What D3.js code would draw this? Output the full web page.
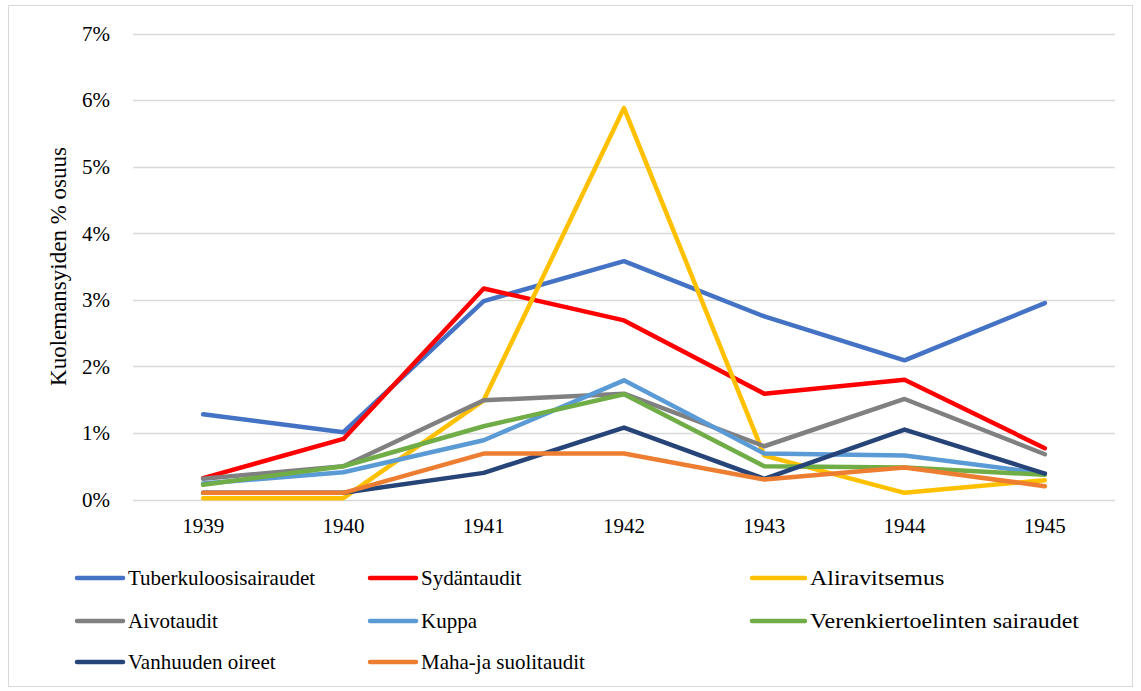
<!DOCTYPE html>
<html>
<head>
<meta charset="UTF-8">
<title>Kuolemansyiden % osuus</title>
<script src="https://d3js.org/d3.v7.min.js"></script>
<style>
  body { margin: 0; background: #fff; }
</style>
</head>
<body>
<svg id="chart" width="1141" height="691"></svg>
<script>
// data (% of deaths)
var years = ["1939", "1940", "1941", "1942", "1943", "1944", "1945"];
var yTicks = [0, 1, 2, 3, 4, 5, 6, 7];

var tuberkuloosi = [1.28, 1.01, 2.98, 3.58, 2.75, 2.09, 2.95];
var sydan        = [0.32, 0.91, 3.17, 2.69, 1.59, 1.80, 0.77];
var aliravitsemus= [0.02, 0.02, 1.49, 5.88, 0.66, 0.10, 0.29];
var aivo         = [0.31, 0.50, 1.49, 1.59, 0.80, 1.51, 0.68];
var kuppa        = [0.24, 0.41, 0.89, 1.79, 0.69, 0.66, 0.39];
var verenkierto  = [0.22, 0.50, 1.10, 1.58, 0.50, 0.48, 0.37];
var vanhuus      = [0.10, 0.10, 0.40, 1.08, 0.31, 1.05, 0.39];
var mahasuoli    = [0.10, 0.10, 0.69, 0.69, 0.30, 0.48, 0.20];

var seriesNames = ["Tuberkuloosisairaudet", "Sydäntaudit", "Aliravitsemus",
                   "Aivotaudit", "Kuppa", "Verenkiertoelinten sairaudet",
                   "Vanhuuden oireet", "Maha-ja suolitaudit"];
var seriesValues = [tuberkuloosi, sydan, aliravitsemus, aivo, kuppa, verenkierto, vanhuus, mahasuoli];
var colors = ["#4472C4", "#FF0000", "#FFC000", "#808080", "#5B9BD5", "#70AD47", "#264478", "#ED7D31"];

var serif = "'Liberation Serif'";

var svg = d3.select("#chart");

// outer frame
svg.append("rect")
    .attr("x", 8.5).attr("y", 5.5)
    .attr("width", 1124).attr("height", 681)
    .attr("fill", "#fff")
    .attr("stroke", "#D9D9D9");

var plotLeft = 133, plotRight = 1115, plotTop = 33.5, plotBottom = 499.5;

var x = d3.scalePoint()
    .domain(years)
    .range([plotLeft, plotRight])
    .padding(0.5);

var y = d3.scaleLinear()
    .domain([0, 7])
    .range([plotBottom, plotTop]);

// gridlines
svg.append("g")
    .selectAll("line")
    .data(yTicks)
    .enter().append("line")
    .attr("x1", plotLeft).attr("x2", plotRight)
    .attr("y1", d => Math.round(y(d)) + 0.5)
    .attr("y2", d => Math.round(y(d)) + 0.5)
    .attr("stroke", "#D9D9D9")
    .attr("stroke-width", 1.5);

// y tick labels
svg.append("g")
    .selectAll("text")
    .data(yTicks)
    .enter().append("text")
    .attr("x", 110)
    .attr("y", d => y(d))
    .attr("dy", "0.35em")
    .attr("text-anchor", "end")
    .style("font-family", serif)
    .style("font-size", "21px")
    .text(d => d + "%");

// x labels
svg.append("g")
    .selectAll("text")
    .data(years)
    .enter().append("text")
    .attr("x", d => x(d))
    .attr("y", 533)
    .attr("text-anchor", "middle")
    .style("font-family", serif)
    .style("font-size", "21px")
    .text(d => d);

// y axis title
svg.append("text")
    .attr("transform", "translate(66," + ((plotTop + plotBottom) / 2) + ") rotate(-90)")
    .attr("text-anchor", "middle")
    .style("font-family", serif)
    .style("font-size", "23px")
    .text("Kuolemansyiden % osuus");

// lines
var line = d3.line()
    .x((d, i) => x(years[i]))
    .y(d => y(d));

svg.append("g")
    .selectAll("path")
    .data(seriesValues)
    .enter().append("path")
    .attr("d", d => line(d))
    .attr("fill", "none")
    .attr("stroke", (d, i) => colors[i])
    .attr("stroke-width", 4.5)
    .attr("stroke-linejoin", "round")
    .attr("stroke-linecap", "round");

// legend (third column is drawn a bit wider, as in the original)
var colX = [77, 370, 752];
var rowY = [578, 621, 662];
var keyLen = [46, 46, 53];
var stretch = [1, 1, 1.14];

var legend = svg.append("g")
    .selectAll("g")
    .data(seriesNames)
    .enter().append("g")
    .attr("transform", (d, i) => "translate(" + colX[i % 3] + "," + rowY[Math.floor(i / 3)] + ")");

legend.append("line")
    .attr("x1", 0).attr("x2", (d, i) => keyLen[i % 3])
    .attr("y1", 0).attr("y2", 0)
    .attr("stroke", (d, i) => colors[i])
    .attr("stroke-width", 4.5)
    .attr("stroke-linecap", "round");

legend.append("text")
    .attr("transform", (d, i) => "translate(" + (keyLen[i % 3] + 5) + ",0) scale(" + stretch[i % 3] + ",1)")
    .attr("dy", "0.35em")
    .style("font-family", serif)
    .style("font-size", "21px")
    .text(d => d);
</script>
</body>
</html>
